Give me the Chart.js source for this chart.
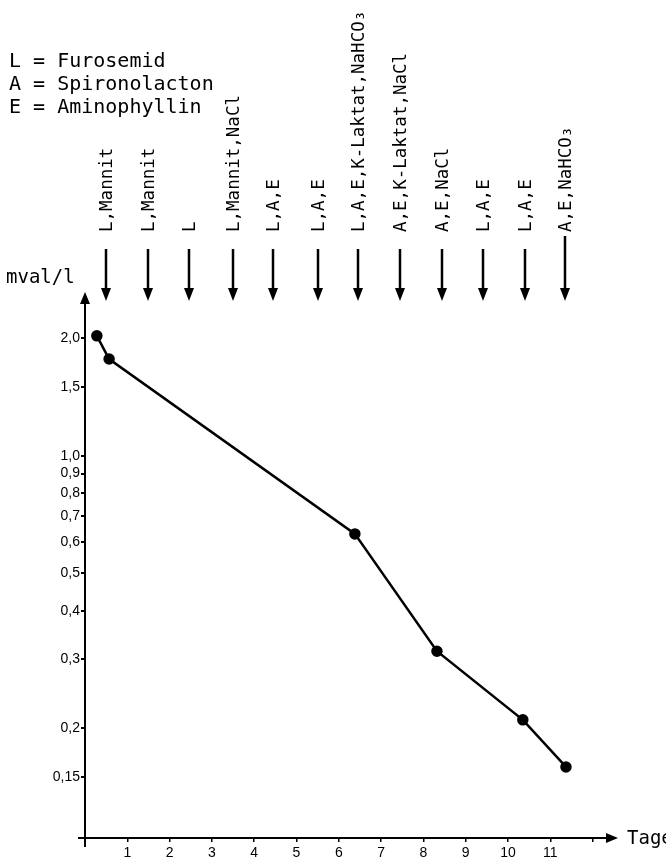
<!DOCTYPE html>
<html>
<head>
<meta charset="utf-8">
<script src="https://cdn.jsdelivr.net/npm/chart.js@4/dist/chart.umd.min.js"></script>
<style>
  html, body { margin: 0; padding: 0; background: #fff; }
  canvas { display: block; }
</style>
</head>
<body>
<canvas id="chart" width="666" height="860"></canvas>
<script>
  // measured values (day, mval/l)
  const dayValues = [0.28, 0.57, 6.38, 8.32, 10.35, 11.37];
  const concValues = [2.03, 1.77, 0.63, 0.315, 0.21, 0.159];

  const xTickValues = [0, 1, 2, 3, 4, 5, 6, 7, 8, 9, 10, 11, 12];
  const xTickLabels = ['', '1', '2', '3', '4', '5', '6', '7', '8', '9', '10', '11', ''];

  const yTickValues = [0.15, 0.2, 0.3, 0.4, 0.5, 0.6, 0.7, 0.8, 0.9, 1.0, 1.5, 2.0];
  const yTickLabels = ['0,15', '0,2', '0,3', '0,4', '0,5', '0,6', '0,7', '0,8', '0,9', '1,0', '1,5', '2,0'];

  // treatments given (arrows above the plot)
  const treatmentDays = [0.5, 1.5, 2.45, 3.5, 4.45, 5.5, 6.45, 7.45, 8.45, 9.4, 10.4, 11.35];
  const treatmentLabels = [
    'L,Mannit', 'L,Mannit', 'L', 'L,Mannit,NaCl', 'L,A,E', 'L,A,E',
    'L,A,E,K-Laktat,NaHCO\u2083', 'A,E,K-Laktat,NaCl', 'A,E,NaCl', 'L,A,E', 'L,A,E', 'A,E,NaHCO\u2083'
  ];

  const legendLines = ['L = Furosemid', 'A = Spironolacton', 'E = Aminophyllin'];

  const MONO = '"DejaVu Sans Mono", monospace';

  const decorPlugin = {
    id: 'decor',
    afterDraw(chart) {
      const ctx = chart.ctx;
      const area = chart.chartArea;
      const xs = chart.scales.x;
      ctx.save();
      ctx.strokeStyle = '#000';
      ctx.fillStyle = '#000';
      ctx.lineWidth = 2;

      // axes with arrow heads
      ctx.beginPath();
      ctx.moveTo(area.left, area.top + 8);
      ctx.lineTo(area.left, area.bottom + 9);
      ctx.moveTo(area.left - 7, area.bottom);
      ctx.lineTo(area.right - 8, area.bottom);
      ctx.stroke();

      ctx.beginPath();
      ctx.moveTo(area.left, area.top);
      ctx.lineTo(area.left - 5, area.top + 12);
      ctx.lineTo(area.left + 5, area.top + 12);
      ctx.closePath();
      ctx.fill();

      ctx.beginPath();
      ctx.moveTo(area.right, area.bottom);
      ctx.lineTo(area.right - 12, area.bottom - 5);
      ctx.lineTo(area.right - 12, area.bottom + 5);
      ctx.closePath();
      ctx.fill();

      // axis titles
      ctx.font = '19px ' + MONO;
      ctx.textBaseline = 'alphabetic';
      ctx.textAlign = 'left';
      ctx.fillText('mval/l', 6, 283);
      ctx.fillText('Tage', area.right + 9, area.bottom + 6);

      // key
      ctx.font = '20px ' + MONO;
      legendLines.forEach((t, i) => ctx.fillText(t, 9, 67 + i * 23));

      // treatment arrows and labels
      treatmentDays.forEach((d, i) => {
        const x = Math.round(xs.getPixelForValue(d));
        ctx.lineWidth = 2.5;
        ctx.beginPath();
        ctx.moveTo(x, i === treatmentDays.length - 1 ? 236 : 249);
        ctx.lineTo(x, 290);
        ctx.stroke();
        ctx.beginPath();
        ctx.moveTo(x, 301);
        ctx.lineTo(x - 5, 288);
        ctx.lineTo(x + 5, 288);
        ctx.closePath();
        ctx.fill();

        ctx.save();
        ctx.translate(x + 1, 232);
        ctx.rotate(-Math.PI / 2);
        ctx.font = '17.5px ' + MONO;
        ctx.textAlign = 'left';
        ctx.textBaseline = 'middle';
        ctx.fillText(treatmentLabels[i], 0, 0);
        ctx.restore();
      });
      ctx.restore();
    }
  };

  const config = {
    type: 'line',
    data: {
      datasets: [{
        data: dayValues.map((d, i) => ({ x: d, y: concValues[i] })),
        borderColor: '#000',
        borderWidth: 2.5,
        pointRadius: 4.5,
        pointBackgroundColor: '#000',
        pointBorderColor: '#000',
        tension: 0,
        clip: false
      }]
    },
    options: {
      responsive: false,
      animation: false,
      layout: { padding: { top: 292, right: 48, left: 0, bottom: 0 } },
      plugins: { legend: { display: false }, tooltip: { enabled: false } },
      scales: {
        x: {
          type: 'linear',
          min: 0,
          max: 12.6,
          bounds: 'data',
          afterBuildTicks: (s) => { s.ticks = xTickValues.map(v => ({ value: v })); },
          afterFit: (s) => { s.height = 22; },
          border: { display: false },
          grid: { drawOnChartArea: false, drawTicks: true, tickLength: 4, color: '#000', lineWidth: 1.5 },
          ticks: {
            color: '#000',
            padding: 3,
            maxRotation: 0,
            autoSkip: false,
            font: { family: 'Liberation Sans', size: 14 },
            callback: (v) => {
              const i = xTickValues.indexOf(v);
              return i >= 0 ? xTickLabels[i] : '';
            }
          }
        },
        y: {
          type: 'logarithmic',
          min: 0.1045,
          max: 2.63,
          bounds: 'data',
          afterBuildTicks: (s) => { s.ticks = yTickValues.map(v => ({ value: v })); },
          afterFit: (s) => { s.width = 85; },
          border: { display: false },
          grid: { drawOnChartArea: false, drawTicks: true, tickLength: 4, color: '#000', lineWidth: 2 },
          ticks: {
            color: '#000',
            padding: 1,
            autoSkip: false,
            font: { family: 'Liberation Sans', size: 14 },
            callback: (v) => {
              const i = yTickValues.indexOf(v);
              return i >= 0 ? yTickLabels[i] : '';
            }
          }
        }
      }
    },
    plugins: [decorPlugin]
  };

  const chart = new Chart(document.getElementById('chart'), config);
</script>
</body>
</html>
